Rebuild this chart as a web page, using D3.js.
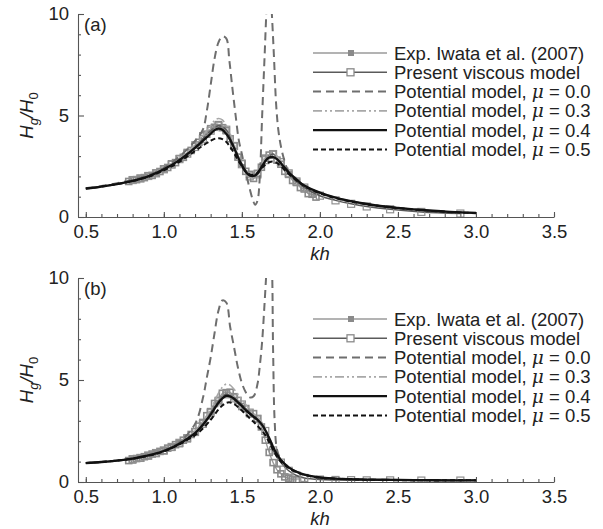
<!DOCTYPE html>
<html>
<head>
<meta charset="utf-8">
<script src="https://cdn.jsdelivr.net/npm/d3@7"></script>
<style>
  body { margin: 0; background: #fff; }
  svg { font-family: Arial, 'Liberation Sans', sans-serif; }
</style>
</head>
<body>
<div id="chart"></div>
<script>
// ---- data ----
// shared kh grid for the damped potential-model curves
const khTheory = [0.5, 0.6, 0.7, 0.8, 0.9, 1.0, 1.1, 1.2, 1.25, 1.3, 1.325, 1.35, 1.375, 1.4, 1.425, 1.45, 1.475,
  1.5, 1.525, 1.55, 1.575, 1.6, 1.625, 1.65, 1.675, 1.7, 1.725, 1.75, 1.8, 1.85, 1.9,
  2.0, 2.1, 2.2, 2.3, 2.4, 2.5, 2.6, 2.7, 2.8, 2.9, 3.0];

// panel (a)
const mu03A = [1.40, 1.50, 1.62, 1.79, 2.02, 2.40, 2.90, 3.55, 4.0, 4.5, 4.75, 4.85, 4.78, 4.5, 4.1, 3.6, 3.05,
  2.55, 2.15, 1.95, 1.95, 2.15, 2.55, 2.95, 3.15, 3.18, 3.0, 2.75, 2.25, 1.85, 1.55,
  1.19, 0.94, 0.77, 0.63, 0.52, 0.44, 0.37, 0.31, 0.26, 0.22, 0.19];
const mu04A = [1.40, 1.50, 1.62, 1.78, 2.00, 2.35, 2.80, 3.40, 3.75, 4.10, 4.28, 4.35, 4.30, 4.10, 3.80, 3.40, 2.95,
  2.55, 2.22, 2.05, 2.02, 2.15, 2.45, 2.75, 2.93, 2.95, 2.85, 2.65, 2.20, 1.85, 1.55,
  1.20, 0.95, 0.78, 0.64, 0.53, 0.45, 0.38, 0.32, 0.27, 0.23, 0.20];
const mu05A = [1.40, 1.50, 1.62, 1.77, 1.98, 2.30, 2.72, 3.25, 3.52, 3.75, 3.85, 3.88, 3.84, 3.7, 3.45, 3.15, 2.8,
  2.5, 2.25, 2.1, 2.08, 2.18, 2.38, 2.58, 2.7, 2.73, 2.66, 2.5, 2.12, 1.8, 1.52,
  1.17, 0.93, 0.76, 0.63, 0.52, 0.44, 0.37, 0.31, 0.26, 0.22, 0.19];
const khMu0A = [0.5, 0.7, 0.9, 1.0, 1.1, 1.2, 1.25, 1.275, 1.3, 1.325, 1.35, 1.375, 1.4, 1.42, 1.44, 1.46, 1.48,
  1.5, 1.525, 1.55, 1.57, 1.585, 1.6, 1.615, 1.63, 1.645, 1.66, 1.675, 1.69, 1.705, 1.72, 1.735, 1.755,
  1.78, 1.8, 1.85, 1.9, 2.0, 2.2, 2.5, 2.8, 3.0];
const mu00A = [1.42, 1.66, 2.06, 2.42, 2.98, 3.75, 4.3, 5.2, 6.5, 7.8, 8.6, 8.9, 8.8, 7.7, 6.3, 5.0, 3.8,
  3.1, 2.2, 1.4, 0.85, 0.6, 0.8, 2.0, 5.0, 7.8, 10.5, 12, 10.3, 8.0, 5.5, 4.2, 3.3,
  2.6, 2.2, 1.78, 1.52, 1.18, 0.77, 0.44, 0.26, 0.2];
const khExpA = [0.775, 0.8, 0.825, 0.85, 0.875, 0.9, 0.925, 0.95, 0.975, 1.0, 1.025, 1.05, 1.075, 1.1, 1.125,
  1.15, 1.175, 1.2, 1.225, 1.25, 1.275, 1.3, 1.325, 1.35, 1.375, 1.4, 1.425, 1.45, 1.475, 1.5, 1.525,
  1.55, 1.575, 1.6, 1.625, 1.65, 1.675, 1.7, 1.725, 1.75, 1.775, 1.8, 1.825, 1.85, 1.875, 1.9, 1.925, 1.95, 1.975];
const expA = [1.75, 1.82, 1.84, 1.9, 1.94, 2.02, 2.05, 2.17, 2.24, 2.37, 2.44, 2.62, 2.68, 2.88, 2.94,
  3.18, 3.28, 3.55, 3.68, 4.0, 4.08, 4.35, 4.42, 4.55, 4.4, 4.25, 3.85, 3.5, 2.95, 2.65, 2.25,
  2.1, 1.9, 2.15, 2.45, 2.9, 3.05, 3.1, 2.8, 2.6, 2.25, 2.1, 1.8, 1.7, 1.45, 1.38, 1.15, 1.12, 0.98];
const khVisc = [0.8, 0.85, 0.9, 0.95, 1.0, 1.05, 1.1, 1.15, 1.2, 1.25, 1.3, 1.35, 1.4, 1.45, 1.5, 1.55, 1.6,
  1.65, 1.7, 1.75, 1.8, 1.85, 1.9, 2.0, 2.1, 2.2, 2.3, 2.45, 2.65, 2.9];
const viscA = [1.82, 1.9, 2.02, 2.15, 2.35, 2.58, 2.85, 3.12, 3.45, 3.85, 4.25, 4.5, 4.3, 3.5, 2.6, 2.0, 2.1,
  2.8, 3.1, 2.7, 2.15, 1.75, 1.45, 1.05, 0.82, 0.65, 0.52, 0.38, 0.25, 0.17];

// panel (b)
const mu03B = [0.93, 0.98, 1.05, 1.16, 1.32, 1.55, 1.93, 2.5, 2.98, 3.55, 3.95, 4.35, 4.65, 4.8, 4.75, 4.55, 4.3,
  4.05, 3.8, 3.55, 3.35, 3.18, 2.95, 2.65, 2.2, 1.8, 1.4, 1.12, 0.75, 0.52, 0.37,
  0.23, 0.17, 0.14, 0.12, 0.11, 0.1, 0.09, 0.09, 0.08, 0.08, 0.08];
const mu04B = [0.93, 0.98, 1.05, 1.15, 1.3, 1.52, 1.88, 2.4, 2.8, 3.3, 3.6, 3.88, 4.1, 4.22, 4.2, 4.08, 3.9,
  3.72, 3.52, 3.35, 3.2, 3.05, 2.85, 2.55, 2.15, 1.72, 1.35, 1.08, 0.72, 0.5, 0.36,
  0.22, 0.17, 0.14, 0.12, 0.11, 0.1, 0.09, 0.09, 0.08, 0.08, 0.08];
const mu05B = [0.93, 0.98, 1.05, 1.14, 1.28, 1.5, 1.84, 2.3, 2.62, 3.05, 3.3, 3.55, 3.75, 3.88, 3.9, 3.82, 3.68,
  3.5, 3.32, 3.12, 2.95, 2.75, 2.55, 2.3, 1.95, 1.58, 1.25, 1.0, 0.68, 0.48, 0.35,
  0.21, 0.16, 0.13, 0.11, 0.1, 0.09, 0.09, 0.08, 0.08, 0.08, 0.08];
const khMu0B = [0.5, 0.7, 0.9, 1.0, 1.1, 1.2, 1.25, 1.275, 1.3, 1.325, 1.35, 1.375, 1.4, 1.425, 1.45, 1.475,
  1.5, 1.525, 1.55, 1.575, 1.6, 1.615, 1.63, 1.645, 1.66, 1.675, 1.69, 1.7, 1.71, 1.725, 1.75,
  1.8, 1.9, 2.0, 2.5, 3.0];
const mu00B = [0.93, 1.05, 1.32, 1.55, 1.95, 2.85, 4.1, 5.1, 6.1, 7.3, 8.4, 8.9, 8.8, 7.6, 6.6, 5.6,
  4.85, 4.4, 4.15, 4.2, 4.8, 5.7, 6.9, 8.7, 10.6, 12, 11, 6.5, 3.0, 1.6, 1.1,
  0.72, 0.36, 0.22, 0.1, 0.08];
const khExpB = [0.775, 0.8, 0.825, 0.85, 0.875, 0.9, 0.925, 0.95, 0.975, 1.0, 1.025, 1.05, 1.075, 1.1, 1.125,
  1.15, 1.175, 1.2, 1.225, 1.25, 1.275, 1.3, 1.325, 1.35, 1.375, 1.4, 1.425, 1.45, 1.475, 1.5, 1.525,
  1.55, 1.575, 1.6, 1.625, 1.65, 1.675, 1.7, 1.725, 1.75, 1.775, 1.8, 1.825, 1.85];
const expB = [1.05, 1.08, 1.15, 1.17, 1.24, 1.28, 1.37, 1.4, 1.5, 1.53, 1.66, 1.7, 1.83, 1.88, 2.05,
  2.12, 2.33, 2.47, 2.74, 2.92, 3.25, 3.45, 3.85, 4.0, 4.35, 4.38, 4.4, 4.18, 4.0, 3.7, 3.6,
  3.35, 3.35, 3.1, 2.7, 2.05, 1.45, 0.95, 0.6, 0.4, 0.25, 0.18, 0.12, 0.1];
const viscB = [1.12, 1.18, 1.3, 1.42, 1.55, 1.72, 1.92, 2.15, 2.45, 2.85, 3.4, 3.95, 4.3, 4.1, 3.8, 3.4, 3.1,
  2.5, 1.55, 0.95, 0.55, 0.32, 0.2, 0.12, 0.1, 0.09, 0.08, 0.08, 0.07, 0.07];

const xTicks = [0.5, 1.0, 1.5, 2.0, 2.5, 3.0, 3.5];
const yTicks = [0, 5, 10];
const legendLabels = ['Exp. Iwata et al. (2007)', 'Present viscous model',
  'Potential model, |0.0', 'Potential model, |0.3', 'Potential model, |0.4', 'Potential model, |0.5'];

// ---- line styles ----
const styles = {
  exp:  { stroke: '#9a9a9a', width: 1.3, dash: null },
  visc: { stroke: '#5a5a5a', width: 1.5, dash: null },
  mu00: { stroke: '#6e6e6e', width: 2, dash: '8,5' },
  mu03: { stroke: '#a8a8a8', width: 1.6, dash: '9,3,2,3,2,3' },
  mu04: { stroke: '#111', width: 2.3, dash: null },
  mu05: { stroke: '#111', width: 2, dash: '5,3' }
};

class TwoPanelChart {
  constructor() {
    this.width = 603;
    this.height = 529;
    this.left = 78;
    this.right = 554;
    this.svg = null;
  }

  createSVG() {
    this.svg = d3.select('#chart')
      .append('svg')
      .attr('width', this.width)
      .attr('height', this.height);

    this.x = d3.scaleLinear().domain([0.45, 3.5]).range([this.left, this.right]);
  }

  // One panel: axes, curves, legend
  drawPanel(p) {
    const x = this.x;
    const y = d3.scaleLinear().domain([0, 10]).range([p.bottom, p.top]);
    const g = this.svg.append('g');

    g.append('clipPath').attr('id', 'clip-' + p.name)
      .append('rect')
      .attr('x', this.left).attr('y', p.top)
      .attr('width', this.right - this.left).attr('height', p.bottom - p.top);

    // minor ticks
    g.append('g')
      .attr('transform', `translate(0,${p.bottom})`)
      .call(d3.axisBottom(x).tickValues(d3.range(5, 36).map(d => d / 10)).tickSize(-3).tickSizeOuter(0).tickFormat(''))
      .call(a => a.select('.domain').remove());
    g.append('g')
      .attr('transform', `translate(${this.left},0)`)
      .call(d3.axisLeft(y).tickValues([1, 2, 3, 4, 6, 7, 8, 9]).tickSize(-3).tickSizeOuter(0).tickFormat(''))
      .call(a => a.select('.domain').remove());

    // major axes
    const xAxis = g.append('g')
      .attr('transform', `translate(0,${p.bottom})`)
      .call(d3.axisBottom(x).tickValues(xTicks).tickSize(-5).tickSizeOuter(0).tickPadding(8).tickFormat(d3.format('.1f')));
    const yAxis = g.append('g')
      .attr('transform', `translate(${this.left},0)`)
      .call(d3.axisLeft(y).tickValues(yTicks).tickSize(-6).tickSizeOuter(0).tickPadding(9).tickFormat(d3.format('d')));

    [xAxis, yAxis].forEach(a => {
      a.selectAll('text').attr('font-size', 18.5).attr('fill', '#222').attr('font-family', 'Arial, Liberation Sans, sans-serif');
    });
    g.selectAll('.domain, .tick line').attr('stroke', '#555').attr('stroke-width', 1.1);

    // axis titles
    g.append('text')
      .attr('x', (this.left + this.right) / 2 + 4)
      .attr('y', p.bottom + 43)
      .attr('text-anchor', 'middle')
      .attr('font-size', 18.5)
      .attr('font-style', 'italic')
      .attr('fill', '#222')
      .text('kh');

    const yt = g.append('text')
      .attr('transform', `translate(33,${(p.top + p.bottom) / 2}) rotate(-90)`)
      .attr('text-anchor', 'middle')
      .attr('font-size', 18.5)
      .attr('font-style', 'italic')
      .attr('fill', '#222');
    yt.append('tspan').text('H');
    yt.append('tspan').attr('font-size', 13).attr('dy', 5).text('g');
    yt.append('tspan').attr('dy', -5).text('/H');
    yt.append('tspan').attr('font-size', 13).attr('font-style', 'normal').attr('dy', 5).text('0');

    g.append('text')
      .attr('x', this.left + 6)
      .attr('y', p.top + 17)
      .attr('font-size', 18.5)
      .attr('fill', '#222')
      .text(`(${p.name})`);

    // curves
    const plot = g.append('g').attr('clip-path', `url(#clip-${p.name})`);
    const line = d3.line()
      .x(d => x(d[0]))
      .y(d => y(d[1]))
      .curve(d3.curveCatmullRom.alpha(0.5));

    const addLine = (kh, vals, st) => plot.append('path')
      .datum(d3.zip(kh, vals))
      .attr('d', line)
      .attr('fill', 'none')
      .attr('stroke', st.stroke)
      .attr('stroke-width', st.width)
      .attr('stroke-dasharray', st.dash);

    addLine(p.khExp, p.exp, styles.exp);
    plot.selectAll('.exp-pt')
      .data(d3.zip(p.khExp, p.exp))
      .enter()
      .append('rect')
      .attr('class', 'exp-pt')
      .attr('x', d => x(d[0]) - 3).attr('y', d => y(d[1]) - 3)
      .attr('width', 6).attr('height', 6)
      .attr('fill', 'none').attr('stroke', '#8a8a8a').attr('stroke-width', 1.6);

    addLine(khVisc, p.visc, styles.visc);
    plot.selectAll('.visc-pt')
      .data(d3.zip(khVisc, p.visc))
      .enter()
      .append('rect')
      .attr('class', 'visc-pt')
      .attr('x', d => x(d[0]) - 3.5).attr('y', d => y(d[1]) - 3.5)
      .attr('width', 7).attr('height', 7)
      .attr('fill', 'none').attr('stroke', '#909090').attr('stroke-width', 1.2);

    addLine(khTheory, p.mu03, styles.mu03);
    addLine(p.khMu0, p.mu00, styles.mu00);
    addLine(khTheory, p.mu05, styles.mu05);
    addLine(khTheory, p.mu04, styles.mu04);

    this.drawLegend(p.legendTop);
  }

  drawLegend(top) {
    const keys = ['exp', 'visc', 'mu00', 'mu03', 'mu04', 'mu05'];
    const step = 19.3;
    const lg = this.svg.append('g');

    keys.forEach((k, i) => {
      const cy = top + i * step;
      const st = styles[k];
      lg.append('line')
        .attr('x1', 313).attr('x2', 387).attr('y1', cy).attr('y2', cy)
        .attr('stroke', st.stroke)
        .attr('stroke-width', st.width)
        .attr('stroke-dasharray', st.dash);
      if (k === 'exp') {
        lg.append('rect').attr('x', 348).attr('y', cy - 3).attr('width', 6).attr('height', 6)
          .attr('fill', '#8a8a8a');
      }
      if (k === 'visc') {
        lg.append('rect').attr('x', 347).attr('y', cy - 3.5).attr('width', 7).attr('height', 7)
          .attr('fill', '#fff').attr('stroke', '#8a8a8a').attr('stroke-width', 1.3);
      }

      const parts = legendLabels[i].split('|');
      const t = lg.append('text')
        .attr('x', 394).attr('y', cy + 6.5)
        .attr('font-size', 18.5)
        .attr('fill', '#222');
      t.append('tspan').text(parts[0]);
      if (parts.length > 1) {
        t.append('tspan').attr('font-family', 'DejaVu Serif, serif').attr('font-style', 'italic').text('\u03bc');
        t.append('tspan').text(' = ' + parts[1]);
      }
    });
  }

  initialize() {
    this.createSVG();
    this.drawPanel({
      name: 'a', top: 14, bottom: 217, legendTop: 53,
      mu03: mu03A, mu04: mu04A, mu05: mu05A, khMu0: khMu0A, mu00: mu00A,
      khExp: khExpA, exp: expA, visc: viscA
    });
    this.drawPanel({
      name: 'b', top: 278, bottom: 482, legendTop: 319,
      mu03: mu03B, mu04: mu04B, mu05: mu05B, khMu0: khMu0B, mu00: mu00B,
      khExp: khExpB, exp: expB, visc: viscB
    });
  }
}

const chart = new TwoPanelChart();
chart.initialize();
</script>
</body>
</html>
